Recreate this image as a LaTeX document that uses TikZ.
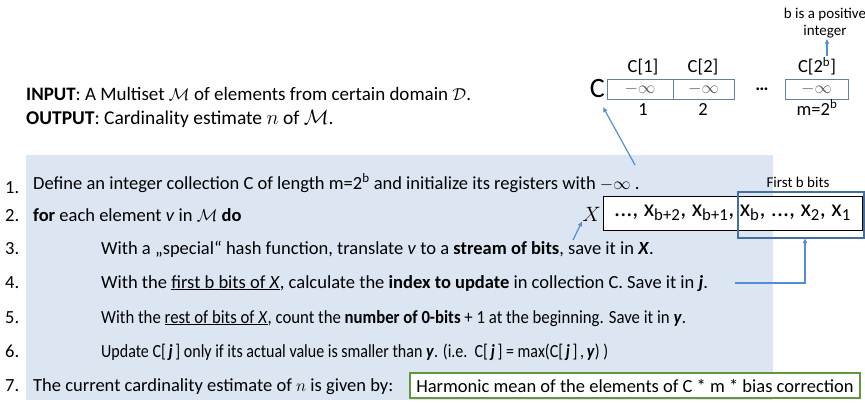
\documentclass[tikz,border=0pt]{standalone}
\usepackage{fontspec}
\setmainfont{Carlito}
\usepackage{graphicx}
\usetikzlibrary{arrows.meta}
\definecolor{bgblue}{RGB}{220,230,242}
\definecolor{arrblue}{RGB}{84,141,212}
\definecolor{frameblue}{RGB}{65,113,156}
\definecolor{cellblue}{RGB}{95,130,165}
\definecolor{grn}{RGB}{100,150,60}
\definecolor{cellgrey}{RGB}{90,90,90}
\begin{document}
\begin{tikzpicture}[x=1pt,y=-1pt,
  every node/.style={inner sep=0pt,font=\fontsize{18.5}{22}\selectfont},
  txt/.style={anchor=base west},
  num/.style={anchor=base west},
  small/.style={font=\fontsize{15}{18}\selectfont},
  cell/.style={draw=cellblue,line width=0.6pt,minimum height=20pt,text=cellgrey},
  arr/.style={draw=arrblue,line width=1.2pt,-{Latex[length=5pt,width=5pt]}}]
\useasboundingbox (0,0) rectangle (865,402);
\fill[bgblue] (26,155) rectangle (773,400);

% top right register array
\node[small] (bpos) at (825,14) {b is a positive};
\node[small] (bint) at (825,32) {integer};
\node[cell,minimum width=66pt] (c1) at (640,89) {$-\infty$};
\node[cell,minimum width=61pt] (c2) at (703.5,89) {$-\infty$};
\node[cell,minimum width=63pt] (c3) at (816.5,89) {$-\infty$};
\node (cdots) at (762,89) {\textbf{\dots}};
\node[font=\fontsize{28}{30}\selectfont,anchor=east] (C) at (605,89) {C};
\node[anchor=base] (l1) at (643,72.5) {C[1]};
\node[anchor=base] (l2) at (703,72.5) {C[2]};
\node[anchor=base] (l3) at (817,72.5) {C[2\textsuperscript{b}]};
\node[anchor=base] (i1) at (643,115) {1};
\node[anchor=base] (i2) at (703,115) {2};
\node[anchor=base] (i3) at (817,115) {m=2\textsuperscript{b}};
\coordinate (l3top) at (827,56);
\draw[arr] (l3top) -- (bint.south -| l3top);

% input/output
\node[txt,font=\fontsize{19}{22}\selectfont] (inp) at (26,100.5) {\textbf{INPUT}: A Multiset $\mathcal{M}$ of elements from certain domain $\mathcal{D}$.};
\node[txt,font=\fontsize{19.5}{22}\selectfont] (out) at (26,124) {\textbf{OUTPUT}: Cardinality estimate $n$ of $\mathcal{M}$.};

% numbers
\node[num] (n1) at (5,193) {1.};
\node[num] (n2) at (5,221) {2.};
\node[num] (n3) at (5,254) {3.};
\node[num] (n4) at (5,288) {4.};
\node[num] (n5) at (5,323) {5.};
\node[num] (n6) at (5,357) {6.};
\node[num] (n7) at (5,391) {7.};

\node[txt] (t1) at (33,189) {Define an integer collection C of length m=2\textsuperscript{b} and initialize its registers with $-\infty$ .};
\node[txt] (t2) at (33,221) {\textbf{for} each element \textit{v} in $\mathcal{M}$ \textbf{do}};
\node[txt] (t3) at (101,254) {With a „special“ hash function, translate \textit{v} to a \textbf{stream of bits}, save it in \textbf{\textit{X}}.};
\node[txt] (t4) at (101,288) {With the \underline{first b bits of \textit{X}}, calculate the \textbf{index to update} in collection C. Save it in \textbf{\textit{j}}.};
\node[txt] (t5) at (101,323) {\scalebox{0.905}[1]{With the \underline{rest of bits of \textit{X}}, count the \textbf{number of 0-bits} + 1 at the beginning. Save it in \textbf{\textit{y}}.}};
\node[txt] (t6) at (101,357) {\scalebox{0.865}[1]{Update C[\,\textbf{\textit{j}}\,] only if its actual value is smaller than \textbf{\textit{y}}. (i.e.\ \ C[\,\textbf{\textit{j}}\,] = max(C[\,\textbf{\textit{j}}\,]\,,\,\textbf{\textit{y}}) )}};
\node[txt] (t7) at (33,391) {The current cardinality estimate of $n$ is given by:};
\node[draw=grn,line width=1.2pt,fill=white,minimum height=25pt,minimum width=450pt] (harm) at (635,385.5) {Harmonic mean of the elements of C * m * bias correction};

% X bit stream
\node[draw=black,fill=white,line width=0.6pt,minimum height=34pt,minimum width=259pt,font=\fontsize{24}{26}\selectfont] (xbox) at (732.5,213) {..., x\textsubscript{b+2}, x\textsubscript{b+1}, x\textsubscript{b}, ..., x\textsubscript{2}, x\textsubscript{1}};
\node[anchor=east,font=\fontsize{20}{22}\selectfont] (xl) at (601,214) {$X$};
\draw[frameblue,line width=1.6pt] (738,192) rectangle (864,238);
\coordinate (frb) at (805,238);
\node[small] (fbb) at (798,182) {First b bits};

% arrows
\coordinate (a1s) at (635,165);
\coordinate (a1e) at (603,107);
\draw[arr] (a1s) -- (a1e);
\coordinate (a3s) at (573,240);
\draw[arr] (a3s) -- (xl.south west);
\coordinate (a4s) at (735,283);
\draw[arr] (a4s) -| (frb);
\end{tikzpicture}
\end{document}
